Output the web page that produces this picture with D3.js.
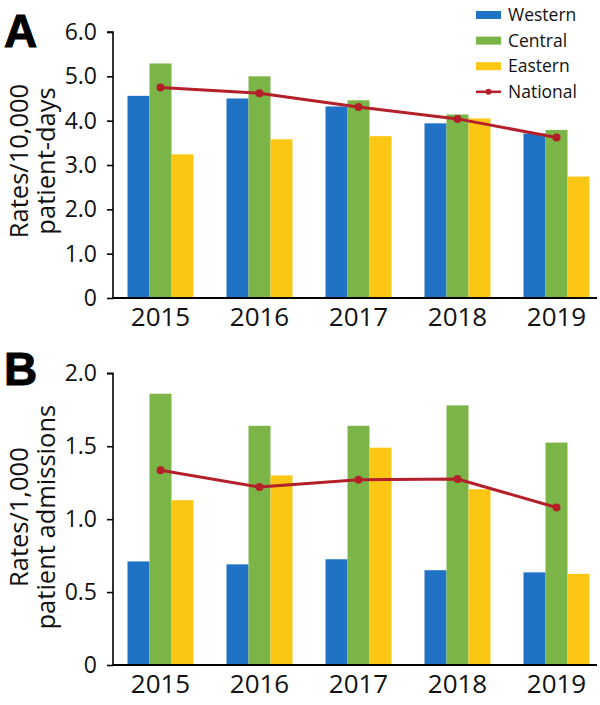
<!DOCTYPE html>
<html>
<head>
<meta charset="utf-8">
<script src="https://cdn.jsdelivr.net/npm/d3@7"></script>
<style>
  html, body { margin: 0; padding: 0; background: #fff; }
  svg { display: block; }
</style>
</head>
<body>
<svg id="chart" width="600" height="705"></svg>
<script>
const years = ["2015", "2016", "2017", "2018", "2019"];
const seriesNames = ["Western", "Central", "Eastern"];
const lineName = "National";

// Panel A: rates per 10,000 patient-days
const aWestern  = [4.56, 4.50, 4.32, 3.94, 3.71];
const aCentral  = [5.29, 5.00, 4.46, 4.14, 3.79];
const aEastern  = [3.24, 3.58, 3.65, 4.05, 2.74];
const aNational = [4.75, 4.62, 4.31, 4.04, 3.62];
const aTicks = [0, 1, 2, 3, 4, 5, 6];

// Panel B: rates per 1,000 patient admissions
const bWestern  = [0.71, 0.69, 0.725, 0.65, 0.635];
const bCentral  = [1.86, 1.64, 1.64, 1.78, 1.525];
const bEastern  = [1.13, 1.30, 1.49, 1.205, 0.625];
const bNational = [1.335, 1.22, 1.27, 1.275, 1.08];
const bTicks = [0, 0.5, 1.0, 1.5, 2.0];

const colors = { Western: "#1f72c4", Central: "#7bb547", Eastern: "#fcc714", National: "#b3202a" };
const FONT = "'Open Sans', sans-serif";

const svg = d3.select("#chart");

function panel(cfg) {
  const g = svg.append("g");
  const x0 = d3.scaleBand().domain(years).range([111, 606]).paddingInner(1/3).paddingOuter(1/6);
  const x1 = d3.scaleBand().domain(seriesNames).range([0, x0.bandwidth()]);
  const y = d3.scaleLinear().domain([0, cfg.max]).range([cfg.bottom, cfg.top]);

  const data = years.map((yr, i) => ({ year: yr, values: seriesNames.map(s => ({ key: s, value: cfg.series[s][i] })) }));

  // bars
  g.selectAll("g.grp").data(data).join("g")
    .attr("transform", d => `translate(${x0(d.year)},0)`)
    .selectAll("rect").data(d => d.values).join("rect")
    .attr("x", d => x1(d.key))
    .attr("width", x1.bandwidth())
    .attr("y", d => y(d.value))
    .attr("height", d => y(0) - y(d.value))
    .attr("fill", d => colors[d.key]);

  // y axis
  const yAxis = d3.axisLeft(y).tickValues(cfg.ticks).tickSize(6).tickPadding(10)
    .tickFormat(d => d === 0 ? "0" : d3.format(".1f")(d));
  const ya = g.append("g").attr("transform", "translate(113,0)").call(yAxis);
  ya.select(".domain").attr("stroke", "#000").attr("stroke-width", 1.6).attr("d", `M-6,${y(cfg.max)}H0V${y(0)}`);
  ya.selectAll(".tick line").attr("stroke", "#000").attr("stroke-width", 1.6);
  ya.selectAll(".tick text").attr("font-family", FONT).attr("font-size", 23).attr("fill", "#111");

  // x axis
  const xAxis = d3.axisBottom(x0).tickSize(0).tickPadding(10);
  const xa = g.append("g").attr("transform", `translate(0,${cfg.bottom})`).call(xAxis);
  xa.select(".domain").attr("stroke", "#000").attr("stroke-width", 2).attr("d", "M113,0H597");
  xa.selectAll(".tick text").attr("font-family", FONT).attr("font-size", 26).attr("fill", "#111");

  // national line
  const line = d3.line().x((d, i) => x0(years[i]) + x0.bandwidth() / 2).y(d => y(d));
  g.append("path").datum(cfg.national).attr("d", line)
    .attr("fill", "none").attr("stroke", colors.National).attr("stroke-width", 3);
  g.selectAll("circle.nat").data(cfg.national).join("circle")
    .attr("cx", (d, i) => x0(years[i]) + x0.bandwidth() / 2)
    .attr("cy", d => y(d)).attr("r", 4).attr("fill", colors.National);

  // y title
  const cy = (cfg.top + cfg.bottom) / 2 + cfg.titleShift;
  const t = g.append("text").attr("transform", `translate(0,${cy}) rotate(-90)`)
    .attr("text-anchor", "middle").attr("font-family", FONT).attr("font-size", 25.5).attr("fill", "#111");
  t.append("tspan").attr("x", 0).attr("y", 28).text(cfg.title[0]);
  t.append("tspan").attr("x", 0).attr("y", 55).text(cfg.title[1]);

  // panel letter
  g.append("text").attr("x", 4).attr("y", cfg.letterY).attr("font-family", "'Liberation Sans', Arial, sans-serif")
    .attr("font-weight", "bold").attr("font-size", 46).attr("fill", "#000")
    .attr("stroke", "#000").attr("stroke-width", 1).text(cfg.letter);
}

panel({
  series: { Western: aWestern, Central: aCentral, Eastern: aEastern },
  national: aNational, ticks: aTicks, max: 6, top: 32, bottom: 298,
  title: ["Rates/10,000", "patient-days"], titleShift: -4, letter: "A", letterY: 47
});
panel({
  series: { Western: bWestern, Central: bCentral, Eastern: bEastern },
  national: bNational, ticks: bTicks, max: 2, top: 373.3, bottom: 665,
  title: ["Rates/1,000", "patient admissions"], titleShift: -2, letter: "B", letterY: 385
});

// legend
const legend = svg.append("g");
const legendItems = seriesNames.concat([lineName]);
const lg = legend.selectAll("g").data(legendItems).join("g")
  .attr("transform", (d, i) => `translate(476,${15 + i * 25.6})`);
lg.filter(d => d !== lineName).append("rect")
  .attr("x", 0).attr("y", -4).attr("width", 25).attr("height", 8).attr("fill", d => colors[d]);
const nat = lg.filter(d => d === lineName);
nat.append("line").attr("x1", 0).attr("x2", 25).attr("y1", 0).attr("y2", 0)
  .attr("stroke", colors.National).attr("stroke-width", 2.5);
nat.append("circle").attr("cx", 12.5).attr("cy", 0).attr("r", 3).attr("fill", colors.National);
lg.append("text").attr("x", 32).attr("y", 0).attr("dy", "0.35em")
  .attr("font-family", FONT).attr("font-size", 17.5).attr("fill", "#111").text(d => d);
</script>
</body>
</html>
